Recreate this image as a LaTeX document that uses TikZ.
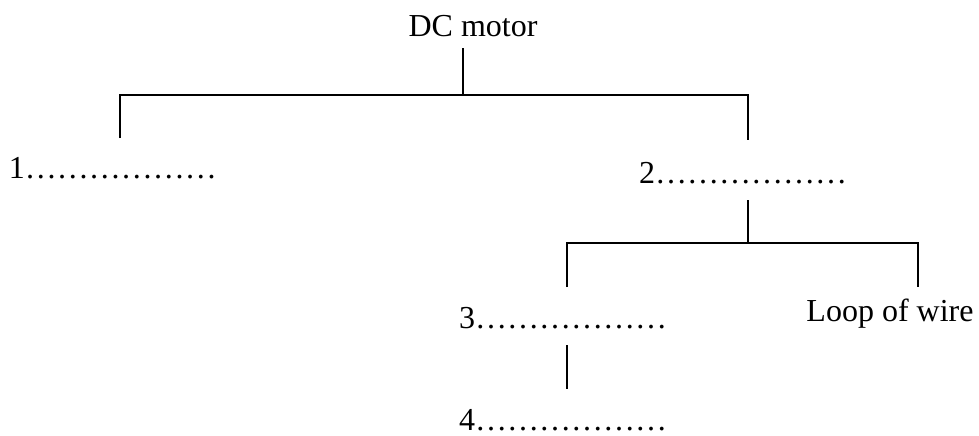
\documentclass[tikz,border=0pt]{standalone}
\usepackage{fontspec}
\setmainfont{Liberation Serif}
\newcommand{\twodots}{……}
\newcommand{\dotrow}{\twodots\twodots\twodots}
\begin{document}
\begin{tikzpicture}[x=0.5pt, y=-0.5pt, line width=1pt,
	blank/.style={inner sep=0pt, anchor=base, font=\fontsize{16}{19}\selectfont}]
	\useasboundingbox (0,0) rectangle (979,435);

	\node[blank] (motor) at (473,36)  {DC motor};
	\node[blank] (1)     at (113,178) {1\dotrow};
	\node[blank] (2)     at (743,183) {2\dotrow};
	\node[blank] (3)     at (563,328) {3\dotrow};
	\node[blank] (4)     at (563,430) {4\dotrow};
	\node[blank] (loop)  at (890,321) {Loop of wire};

	\coordinate (m0) at (463,48);
	\coordinate (m1) at (463,95);
	\coordinate (a0) at (120,95);
	\coordinate (a1) at (120,138);
	\coordinate (b0) at (748,95);
	\coordinate (b1) at (748,140);
	\coordinate (c0) at (748,200);
	\coordinate (c1) at (748,243);
	\coordinate (d0) at (567,243);
	\coordinate (d1) at (567,287);
	\coordinate (e0) at (918,243);
	\coordinate (e1) at (918,287);
	\coordinate (f0) at (567,345);
	\coordinate (f1) at (567,389);

	\draw (m0) -- (m1);
	\draw (a1) -- (a0) -- (b0) -- (b1);
	\draw (c0) -- (c1);
	\draw (d1) -- (d0) -- (e0) -- (e1);
	\draw (f0) -- (f1);
\end{tikzpicture}
\end{document}
